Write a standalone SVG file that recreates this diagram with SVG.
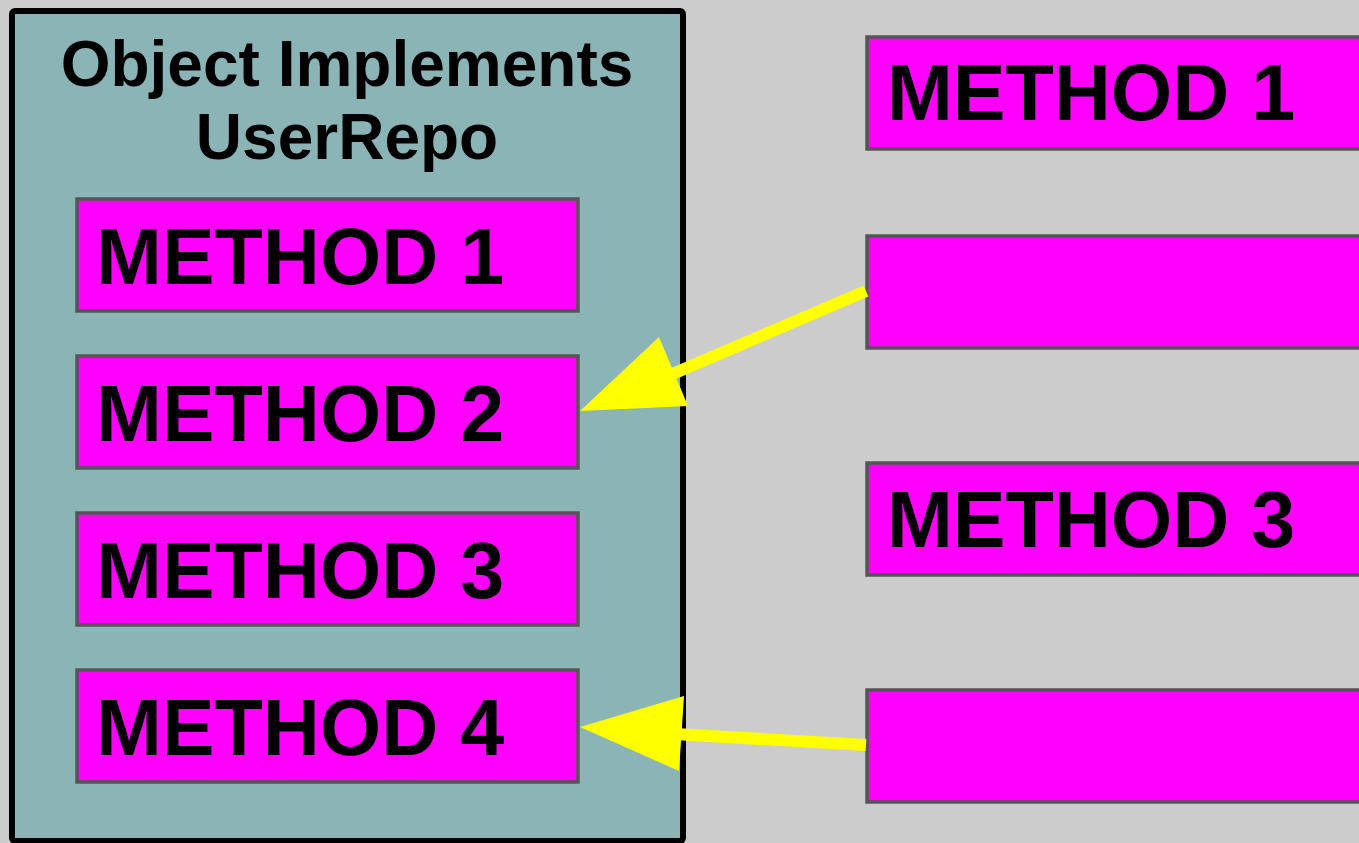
<svg xmlns="http://www.w3.org/2000/svg" width="1359" height="843" viewBox="0 0 1359 843">
<style>
.bg{fill:#cccccc}
.container{fill:#8ab4b6;stroke:#000;stroke-width:6}
.box{fill:#ff00ff;stroke:#555555;stroke-width:3.5}
.title{font-family:"Liberation Sans",Arial,sans-serif;font-weight:bold;font-size:64px;fill:#000;text-anchor:middle}
.label{font-family:"Liberation Sans",Arial,sans-serif;font-weight:bold;font-size:79px;fill:#000}
.conn{stroke:#ffff00;stroke-width:12;fill:none}
.head{fill:#ffff00}
</style>
<rect class="bg" x="0" y="0" width="1359" height="843"/>
<g id="container">
<rect class="container" x="12" y="11" width="671" height="830" rx="3"/>
<text class="title" x="347" y="86">Object Implements</text>
<text class="title" x="347" y="159">UserRepo</text>
</g>
<g id="left-method-1"><rect class="box" x="77" y="199" width="501" height="112"/><text class="label" x="96" y="284">METHOD 1</text></g>
<g id="left-method-2"><rect class="box" x="77" y="356" width="501" height="112"/><text class="label" x="96" y="441">METHOD 2</text></g>
<g id="left-method-3"><rect class="box" x="77" y="513" width="501" height="112"/><text class="label" x="96" y="598">METHOD 3</text></g>
<g id="left-method-4"><rect class="box" x="77" y="670" width="501" height="112"/><text class="label" x="96" y="755">METHOD 4</text></g>
<g id="right-method-1"><rect class="box" x="867" y="37" width="520" height="112"/><text class="label" x="887" y="120">METHOD 1</text></g>
<g id="right-method-2"><rect class="box" x="867" y="236" width="520" height="112"/></g>
<g id="right-method-3"><rect class="box" x="867" y="463" width="520" height="112"/><text class="label" x="887" y="547">METHOD 3</text></g>
<g id="right-method-4"><rect class="box" x="867" y="690" width="520" height="112"/></g>
<g id="connectors">
<line class="conn" x1="866" y1="291" x2="670" y2="375"/>
<polygon class="head" points="580,411 659,337 688,406"/>
<line class="conn" x1="866" y1="745" x2="675" y2="734"/>
<polygon class="head" points="580,727 684,696 679,771"/>
</g>
</svg>
